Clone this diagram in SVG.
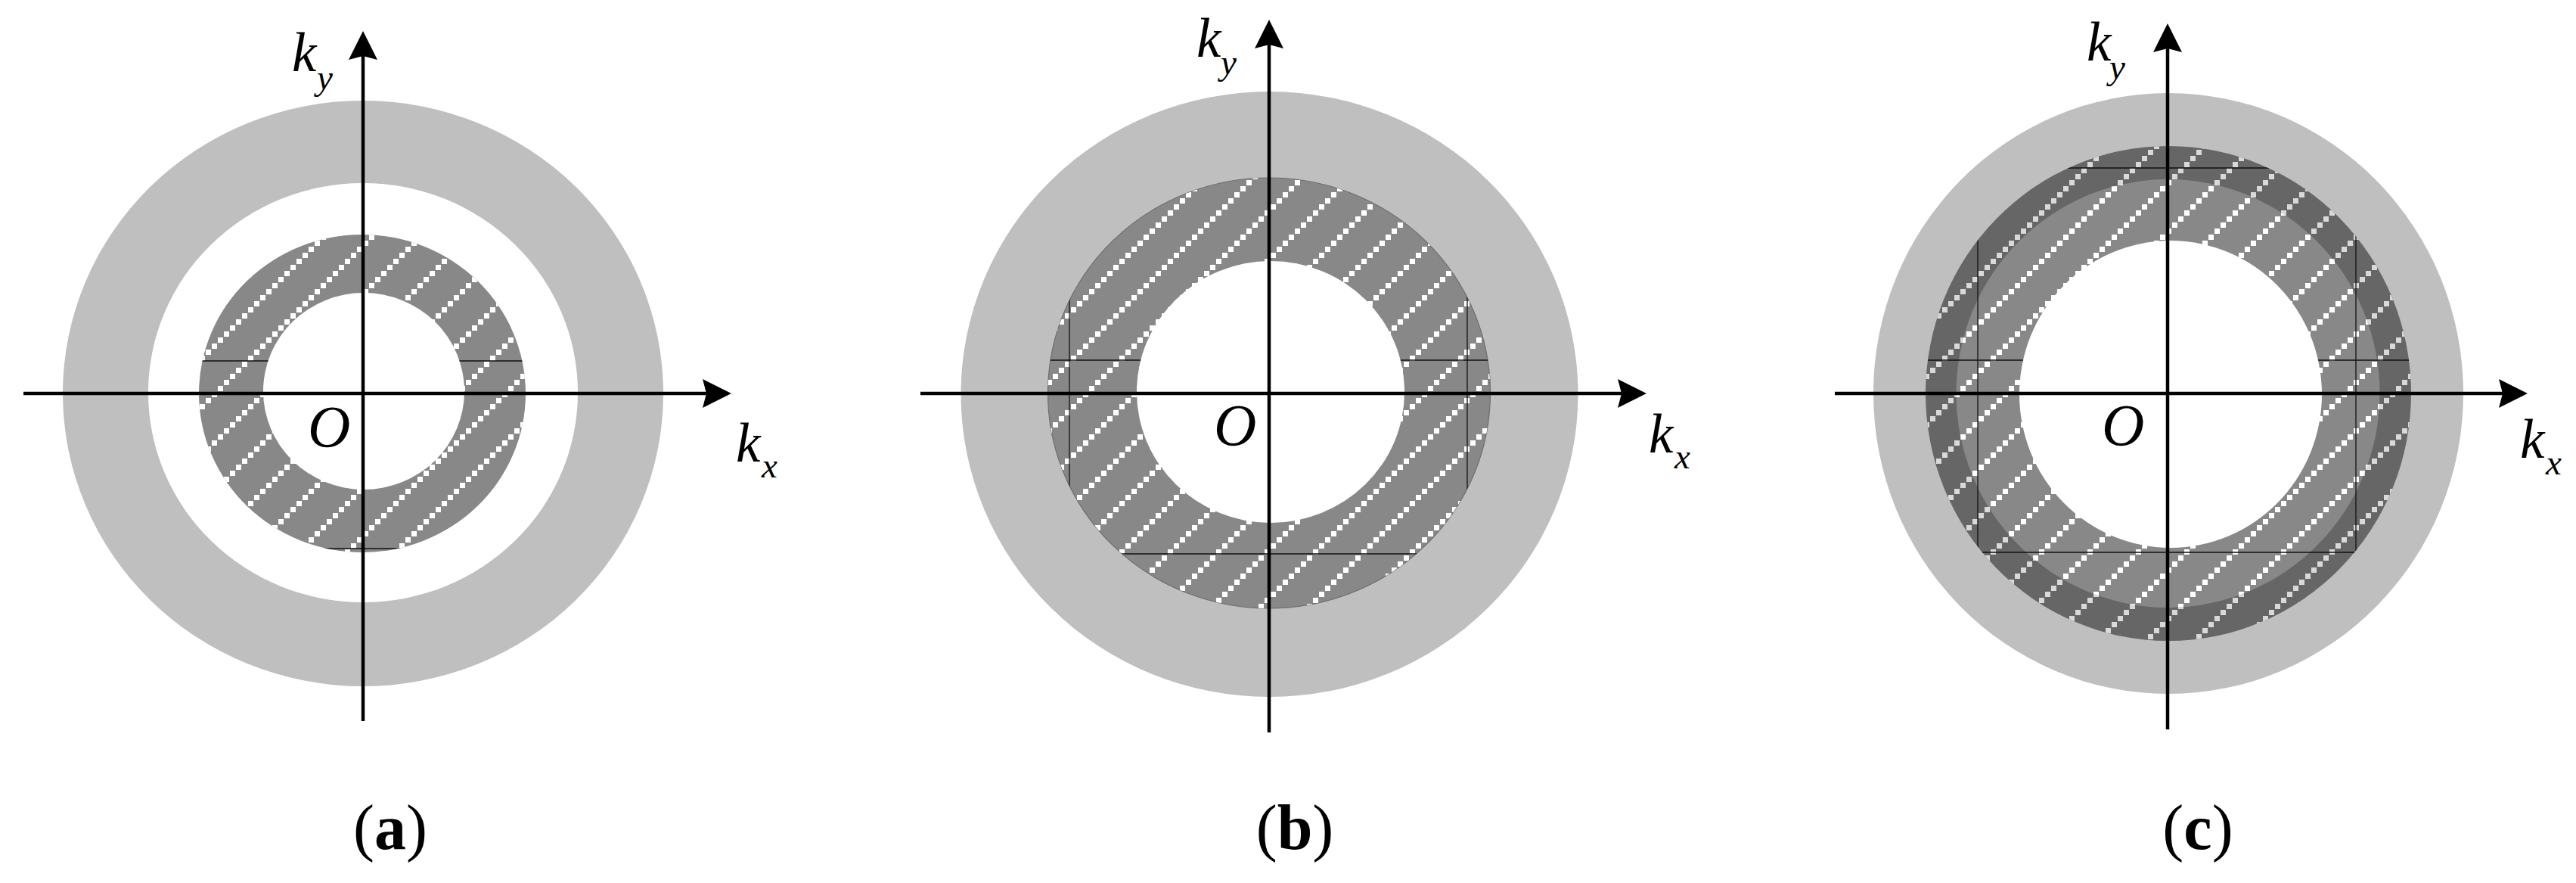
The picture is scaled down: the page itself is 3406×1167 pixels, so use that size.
<svg xmlns="http://www.w3.org/2000/svg" width="3406" height="1167" viewBox="0 0 3406 1167">
<style>
.bg{fill:#ffffff}
.lg{fill:#bfbfbf}
.wh{fill:#ffffff}
.mg{fill:#888888}
.dg{fill:#666666}
.grid{stroke:#111111;stroke-width:1.3;fill:none}
.axis{stroke:#000000;stroke-width:4.5;fill:none}
.sym{font-family:"Liberation Serif","Times New Roman",serif;font-style:italic;fill:#000}
.k{font-size:73px}
.sub{font-size:47px}
.o{font-size:78px}
.cap{font-family:"Liberation Serif","Times New Roman",serif;font-size:84px;fill:#000;text-anchor:middle}
</style>
<defs>
<pattern id="hatchW" patternUnits="userSpaceOnUse" x="0" y="6" width="64" height="64">
<path fill="#ffffff" d="M0 24h7v7h-7z M8 16h7v7h-7z M16 8h7v7h-7z M24 0h7v7h-7z M32 56h7v7h-7z M40 48h7v7h-7z M48 40h7v7h-7z M56 32h7v7h-7z"/>
</pattern>
<pattern id="hatchG" patternUnits="userSpaceOnUse" x="0" y="6" width="64" height="64">
<path fill="#d9d9d9" d="M0 24h7v7h-7z M8 16h7v7h-7z M16 8h7v7h-7z M24 0h7v7h-7z M32 56h7v7h-7z M40 48h7v7h-7z M48 40h7v7h-7z M56 32h7v7h-7z"/>
</pattern>
<marker id="arrow" viewBox="0 0 38 38" refX="28" refY="19" markerWidth="38" markerHeight="38" markerUnits="userSpaceOnUse" orient="auto">
<path d="M0 0 L38 19 L0 38 L5 19 Z" fill="#000"/>
</marker>
<clipPath id="clipA"><ellipse cx="479" cy="520" rx="216" ry="210"/></clipPath>
<clipPath id="clipB"><ellipse cx="1678" cy="519.5" rx="292.5" ry="284.5"/></clipPath>
<clipPath id="clipC"><ellipse cx="2867" cy="520" rx="321" ry="327"/></clipPath>
</defs>
<rect class="bg" x="0" y="0" width="3406" height="1167"/>

<g id="panel-a">
<ellipse class="lg" cx="480" cy="520" rx="397" ry="387"/>
<ellipse class="wh" cx="480" cy="519" rx="284" ry="277"/>
<ellipse class="mg" cx="479" cy="520" rx="216" ry="210"/>
<ellipse fill="url(#hatchW)" cx="479" cy="520" rx="216" ry="210"/>
<g clip-path="url(#clipA)">
<line class="grid" x1="250" y1="477" x2="710" y2="477"/>
<line class="grid" x1="250" y1="725" x2="710" y2="725"/>
</g>
<ellipse class="wh" cx="481" cy="517" rx="133" ry="130"/>
<text class="sym o" x="407" y="590">O</text>
<text class="sym k" x="386" y="94">k</text>
<text class="sym sub" x="419" y="118">y</text>
<text class="sym k" x="973" y="610">k</text>
<text class="sym sub" x="1007" y="631">x</text>
<text class="cap" x="516" y="1122">(<tspan font-weight="bold">a</tspan>)</text>
</g>

<g id="panel-b">
<ellipse class="lg" cx="1678.5" cy="521" rx="408" ry="400"/>
<ellipse class="mg" cx="1678" cy="519.5" rx="292.5" ry="284.5" stroke="#6e6e6e" stroke-width="1.2"/>
<ellipse fill="url(#hatchW)" cx="1678" cy="519.5" rx="292.5" ry="284.5"/>
<g clip-path="url(#clipB)">
<line class="grid" x1="1370" y1="476" x2="1990" y2="476"/>
<line class="grid" x1="1370" y1="732" x2="1990" y2="732"/>
<line class="grid" x1="1414" y1="220" x2="1414" y2="820"/>
<line class="grid" x1="1940" y1="220" x2="1940" y2="820"/>
</g>
<ellipse class="wh" cx="1680" cy="518" rx="177" ry="173"/>
<text class="sym o" x="1605" y="588">O</text>
<text class="sym k" x="1582" y="75">k</text>
<text class="sym sub" x="1614" y="98">y</text>
<text class="sym k" x="2180" y="598">k</text>
<text class="sym sub" x="2214" y="619">x</text>
<text class="cap" x="1712" y="1122">(<tspan font-weight="bold">b</tspan>)</text>
</g>

<g id="panel-c">
<ellipse class="lg" cx="2867" cy="520" rx="390" ry="397"/>
<ellipse class="dg" cx="2867" cy="520" rx="321" ry="327"/>
<ellipse fill="url(#hatchG)" cx="2867" cy="520" rx="321" ry="327"/>
<ellipse class="mg" cx="2866.5" cy="520" rx="280" ry="283"/>
<ellipse fill="url(#hatchW)" cx="2866.5" cy="520" rx="280" ry="283"/>
<g clip-path="url(#clipC)">
<line class="grid" x1="2530" y1="222" x2="3200" y2="222"/>
<line class="grid" x1="2530" y1="476" x2="3200" y2="476"/>
<line class="grid" x1="2530" y1="730" x2="3200" y2="730"/>
<line class="grid" x1="2615" y1="180" x2="2615" y2="860"/>
<line class="grid" x1="3115" y1="180" x2="3115" y2="860"/>
</g>
<ellipse class="wh" cx="2870" cy="521" rx="200" ry="203"/>
<text class="sym o" x="2779" y="588">O</text>
<text class="sym k" x="2759" y="80">k</text>
<text class="sym sub" x="2789" y="104">y</text>
<text class="sym k" x="3332" y="605">k</text>
<text class="sym sub" x="3366" y="627">x</text>
<text class="cap" x="2906" y="1122">(<tspan font-weight="bold">c</tspan>)</text>
</g>

<g id="connectors">
<line class="axis" x1="480" y1="953" x2="480" y2="51" marker-end="url(#arrow)"/>
<line class="axis" x1="31" y1="520" x2="957" y2="520" marker-end="url(#arrow)"/>
<line class="axis" x1="1678" y1="968" x2="1678" y2="36" marker-end="url(#arrow)"/>
<line class="axis" x1="1217" y1="520" x2="2167" y2="520" marker-end="url(#arrow)"/>
<line class="axis" x1="2866" y1="964" x2="2866" y2="41" marker-end="url(#arrow)"/>
<line class="axis" x1="2426" y1="520" x2="3332" y2="520" marker-end="url(#arrow)"/>
</g>
</svg>
